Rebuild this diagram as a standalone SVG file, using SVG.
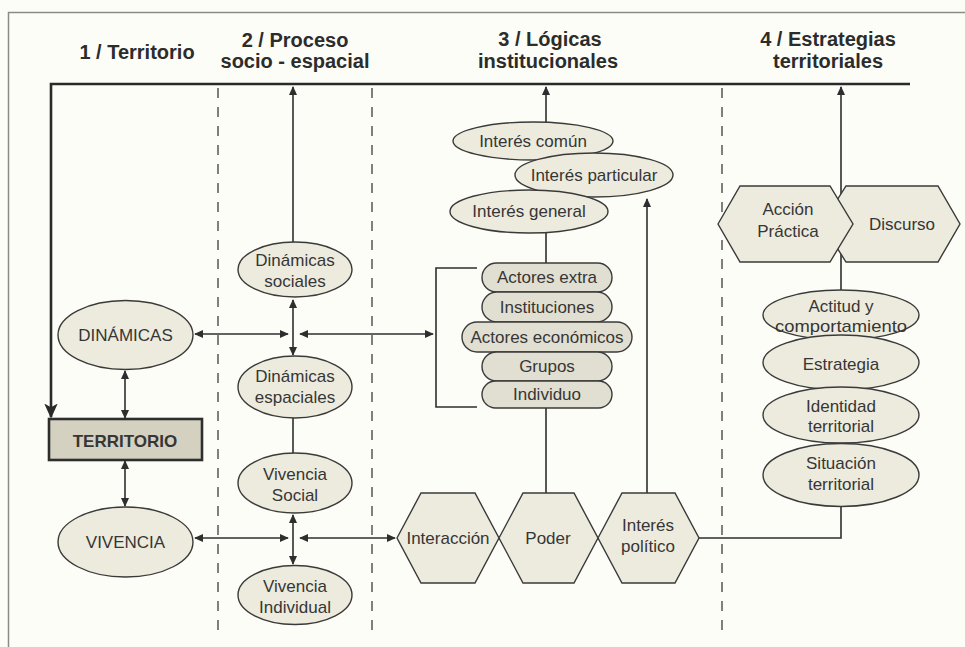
<svg xmlns="http://www.w3.org/2000/svg" width="965" height="647" viewBox="0 0 965 647">
<defs>
<marker id="ah" viewBox="0 0 10 10" refX="9" refY="5" markerWidth="9" markerHeight="9" markerUnits="userSpaceOnUse" orient="auto-start-reverse"><path d="M0,0.5 L10,5 L0,9.5 Z" fill="#2e2e2e"/></marker>
<marker id="big" viewBox="0 0 10 10" refX="9" refY="5" markerWidth="15" markerHeight="15" markerUnits="userSpaceOnUse" orient="auto"><path d="M0,0.5 L10,5 L0,9.5 L2.5,5 Z" fill="#2a2a2a"/></marker>
</defs>
<style>
text{font-family:"Liberation Sans",Arial,sans-serif;fill:#363636;text-anchor:middle;font-size:17px}
.h{font-size:20px;font-weight:bold;fill:#2c2c2c}
.b{font-weight:bold;font-size:17px}
.n{fill:#edebdd;stroke:#3a3a3a;stroke-width:1.4}
.p{fill:#e1dfd1;stroke:#3a3a3a;stroke-width:1.4}
.c{fill:none;stroke:#2e2e2e;stroke-width:1.6}
.a{fill:none;stroke:#2e2e2e;stroke-width:1.6;marker-end:url(#ah);marker-start:url(#ah)}
.e{fill:none;stroke:#2e2e2e;stroke-width:1.6;marker-end:url(#ah)}
.d{fill:none;stroke:#555;stroke-width:1.5;stroke-dasharray:10 9}
</style>
<rect x="0" y="0" width="965" height="647" fill="#fdfdf8"/>
<path d="M8.5,647 V12.5 H965" fill="none" stroke="#8a8a86" stroke-width="1.5"/>
<g id="headers">
<text class="h" x="137" y="59">1 / Territorio</text>
<text class="h" x="295" y="47">2 / Proceso</text>
<text class="h" x="295" y="68">socio - espacial</text>
<text class="h" x="550" y="46">3 / Lógicas</text>
<text class="h" x="548" y="68">institucionales</text>
<text class="h" x="828" y="46">4 / Estrategias</text>
<text class="h" x="828" y="68">territoriales</text>
</g>
<g id="dividers">
<line class="d" x1="218" y1="88" x2="218" y2="636"/>
<line class="d" x1="372" y1="88" x2="372" y2="636"/>
<line class="d" x1="722" y1="88" x2="722" y2="636"/>
</g>
<g id="connectors">
<path d="M910,84 H51 V417" fill="none" stroke="#2a2a2a" stroke-width="2.6" marker-end="url(#big)"/>
<line class="e" x1="293" y1="242" x2="293" y2="87"/>
<line class="e" x1="546" y1="122" x2="546" y2="87"/>
<line class="e" x1="841" y1="200" x2="841" y2="87"/>
<line class="a" x1="195" y1="334" x2="288" y2="334"/>
<line class="a" x1="300" y1="334" x2="433" y2="334"/>
<line class="a" x1="293" y1="300" x2="293" y2="355"/>
<line class="c" x1="293" y1="418" x2="293" y2="453"/>
<line class="a" x1="125" y1="371" x2="125" y2="418"/>
<line class="a" x1="125" y1="461" x2="125" y2="506"/>
<line class="a" x1="195" y1="538" x2="288" y2="538"/>
<line class="a" x1="300" y1="538" x2="395" y2="538"/>
<line class="a" x1="293" y1="515" x2="293" y2="564"/>
<line class="c" x1="546" y1="232" x2="546" y2="263"/>
<line class="c" x1="546" y1="408" x2="546" y2="493"/>
<line class="e" x1="647" y1="493" x2="647" y2="199"/>
<line class="c" x1="841" y1="240" x2="841" y2="291"/>
<path class="c" d="M699,538 H841 V506"/>
<path class="c" d="M477,268 H436 V407 H477"/>
</g>
<g id="territorio">
<rect x="49" y="419" width="153" height="41" fill="#d5d1c1" stroke="#2e2e2e" stroke-width="2.6"/>
<text class="b" x="125" y="447">TERRITORIO</text>
</g>
<g id="dinamicas">
<ellipse class="n" cx="125.5" cy="335" rx="67.5" ry="34.5"/>
<text x="125.5" y="341">DINÁMICAS</text>
</g>
<g id="vivencia">
<ellipse class="n" cx="125.5" cy="542" rx="67.5" ry="35"/>
<text x="125.5" y="548">VIVENCIA</text>
</g>
<g id="din-sociales">
<ellipse class="n" cx="295" cy="269.5" rx="57" ry="27.5"/>
<text x="295" y="266">Dinámicas</text>
<text x="295" y="287">sociales</text>
</g>
<g id="din-espaciales">
<ellipse class="n" cx="295" cy="387" rx="57" ry="31"/>
<text x="295" y="382">Dinámicas</text>
<text x="295" y="403">espaciales</text>
</g>
<g id="viv-social">
<ellipse class="n" cx="295" cy="483" rx="57" ry="30"/>
<text x="295" y="480">Vivencia</text>
<text x="295" y="501">Social</text>
</g>
<g id="viv-individual">
<ellipse class="n" cx="295" cy="595" rx="57" ry="29.5"/>
<text x="295" y="592">Vivencia</text>
<text x="295" y="613">Individual</text>
</g>
<g id="interes-comun">
<ellipse class="n" cx="533" cy="141" rx="80" ry="19"/>
<text x="533" y="147">Interés común</text>
</g>
<g id="interes-particular">
<ellipse class="n" cx="594" cy="175" rx="79" ry="22"/>
<text x="594" y="181">Interés particular</text>
</g>
<g id="interes-general">
<ellipse class="n" cx="529" cy="211.5" rx="79" ry="21.5"/>
<text x="529" y="217">Interés general</text>
</g>
<g id="actores-extra">
<rect class="p" x="482" y="263" width="130" height="29" rx="14.5"/>
<text x="547" y="283">Actores extra</text>
</g>
<g id="instituciones">
<rect class="p" x="482" y="292" width="130" height="30" rx="15"/>
<text x="547" y="313">Instituciones</text>
</g>
<g id="actores-economicos">
<rect class="p" x="462" y="322" width="170" height="30" rx="15"/>
<text x="547" y="343">Actores económicos</text>
</g>
<g id="grupos">
<rect class="p" x="482" y="352" width="130" height="29" rx="14.5"/>
<text x="547" y="372">Grupos</text>
</g>
<g id="individuo">
<rect class="p" x="482" y="381" width="130" height="27" rx="13.5"/>
<text x="547" y="400">Individuo</text>
</g>
<g id="interaccion">
<polygon class="n" points="397,538 421,493 475,493 499,538 475,583 421,583"/>
<text x="448" y="544">Interacción</text>
</g>
<g id="poder">
<polygon class="n" points="499,538 523,493 574,493 598,538 574,583 523,583"/>
<text x="548" y="544">Poder</text>
</g>
<g id="interes-politico">
<polygon class="n" points="598,538 622,493 675,493 699,538 675,583 622,583"/>
<text x="648" y="531">Interés</text>
<text x="648" y="552">político</text>
</g>
<g id="discurso">
<polygon class="n" points="822,224 846,186 938,186 960,224 938,262 846,262"/>
<text x="902" y="230">Discurso</text>
</g>
<g id="accion-practica">
<polygon class="n" points="718,224 740,186 830,186 853,224 830,262 740,262"/>
<text x="788" y="215">Acción</text>
<text x="788" y="237">Práctica</text>
</g>
<g id="actitud">
<ellipse class="n" cx="841" cy="315" rx="78" ry="25"/>
<text x="841" y="312">Actitud y</text>
<text x="841" y="332" textLength="132" lengthAdjust="spacingAndGlyphs">comportamiento</text>
</g>
<g id="estrategia">
<ellipse class="n" cx="841" cy="362.5" rx="78" ry="27.5"/>
<text x="841" y="370">Estrategia</text>
</g>
<g id="identidad">
<ellipse class="n" cx="841" cy="415" rx="78" ry="28"/>
<text x="841" y="412">Identidad</text>
<text x="841" y="432">territorial</text>
</g>
<g id="situacion">
<ellipse class="n" cx="841" cy="475" rx="78" ry="31.5"/>
<text x="841" y="469">Situación</text>
<text x="841" y="490">territorial</text>
</g>
</svg>
